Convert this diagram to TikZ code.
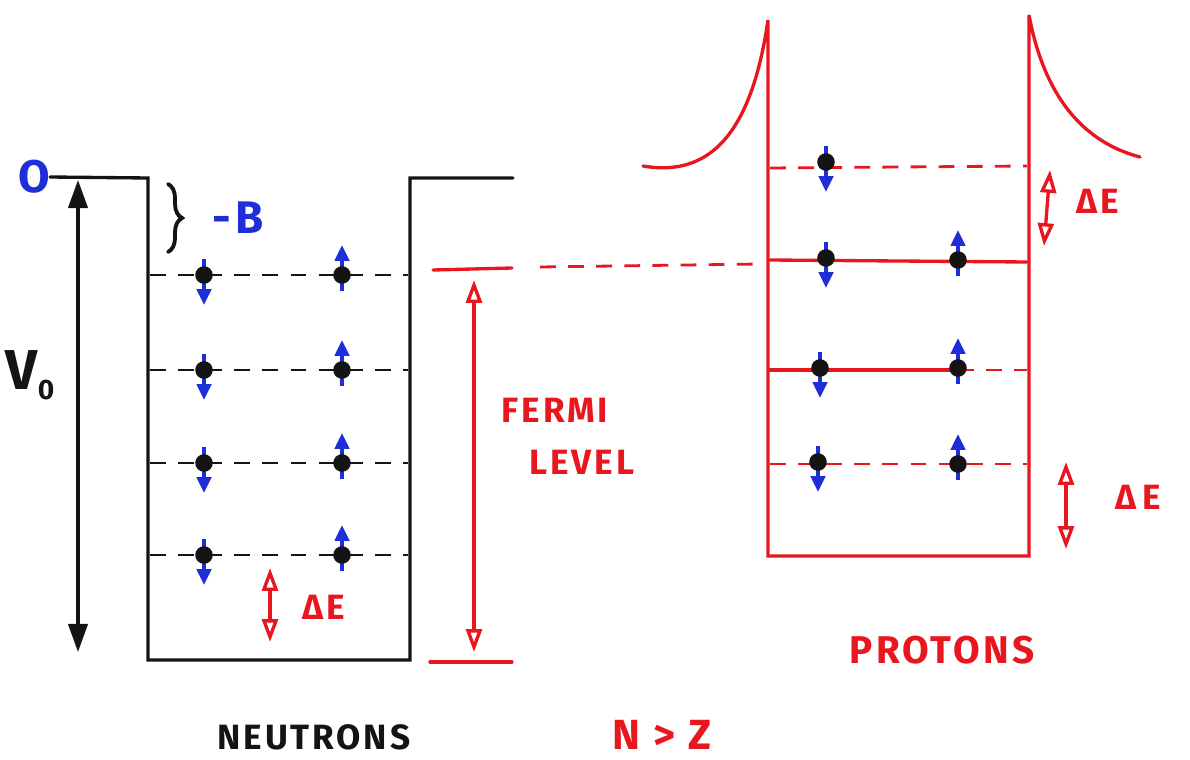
\documentclass[tikz,border=0pt]{standalone}
\usepackage{fontspec}
\setmainfont{Fira Sans}
\newfontfamily\hand[LetterSpace=8]{Fira Sans}
\usetikzlibrary{arrows.meta,decorations.pathreplacing}
\definecolor{ink}{HTML}{141414}
\definecolor{rink}{HTML}{E8161E}
\definecolor{bink}{HTML}{1E2ED8}
\tikzset{
  wall/.style={line width=1.9pt, draw=ink, line cap=round},
  rwall/.style={line width=1.9pt, draw=rink, line cap=round},
  nlevel/.style={line width=1.6pt, draw=ink, dash pattern=on 9pt off 7pt},
  rlevel/.style={line width=1.6pt, draw=rink, dash pattern=on 9pt off 7pt},
  rdouble/.style={rwall, {Triangle[open,length=13pt,width=9pt,line width=1.9pt]}-{Triangle[open,length=13pt,width=9pt,line width=1.9pt]}},
  kdouble/.style={wall, {Triangle[length=16pt,width=11pt]}-{Triangle[length=16pt,width=11pt]}},
  ktext/.style={text=ink, font=\hand\bfseries\fontsize{20}{24}\selectfont},
  rtext/.style={text=rink, font=\hand\bfseries\fontsize{20}{24}\selectfont},
  btext/.style={text=bink, font=\hand\bfseries\fontsize{26}{28}\selectfont},
  spinup/.pic={
    \draw[line width=2.2pt, draw=bink, -{Triangle[length=9pt,width=8pt]}] (0,16) -- (0,-30);
    \fill[ink] (0,0) circle (5pt);
  },
  spindown/.pic={
    \draw[line width=2.2pt, draw=bink, -{Triangle[length=9pt,width=8pt]}] (0,-16) -- (0,30);
    \fill[ink] (0,0) circle (5pt);
  }
}
\begin{document}
\begin{tikzpicture}[x=0.02cm,y=-0.02cm]
\useasboundingbox (0,0) rectangle (1190,760);

% ---------------- neutrons ----------------
\node[btext, inner sep=0pt] (zero) at (34,177) {O};
\coordinate (wTL) at (148,178);
\coordinate (wBL) at (148,660);
\coordinate (wBR) at (410,660);
\coordinate (wTR) at (410,178);
\draw[wall] (zero.east) -- (wTL) -- (wBL) -- (wBR) -- (wTR) -- (513,178);

\coordinate (vtop) at (78,180);
\coordinate (vbot) at (78,652);
\draw[kdouble] (vbot) -- (vtop);
\node[text=ink, font=\hand\bfseries\fontsize{32}{34}\selectfont, inner sep=0pt] (vzero) at (30,375) {V\raisebox{-0.35ex}{\fontsize{16}{16}\selectfont 0}};

\draw[wall, line width=2.2pt, decorate, decoration={brace, amplitude=8pt}] (168,184) -- (168,252);
\node[btext, inner sep=0pt] (bind) at (238,218) {-B};

\foreach \y/\n in {275/a,370/b,463/c,555/d}{
  \draw[nlevel] (150,\y) -- (408,\y);
  \pic (nd\n) at (204,\y) {spindown};
  \pic (nu\n) at (342,\y) {spinup};
}

\coordinate (dEnt) at (270,568);
\coordinate (dEnb) at (270,642);
\draw[rdouble] (dEnt) -- (dEnb);
\node[rtext, inner sep=0pt] (dEn) at (324,607) {ΔE};

\node[ktext, inner sep=0pt] (neut) at (314,737) {NEUTRONS};

% ---------------- Fermi level ----------------
\draw[rwall] (433,270) -- (512,268);
\draw[rlevel] (540,267) -- (760,264);
\draw[rwall] (430,662) -- (512,662);
\coordinate (ftop) at (474,280);
\coordinate (fbot) at (474,652);
\draw[rdouble] (ftop) -- (fbot);
\node[rtext, inner sep=0pt] (fermi) at (555,410) {FERMI};
\node[rtext, inner sep=0pt] (level) at (582,462) {LEVEL};

\node[text=rink, font=\hand\bfseries\fontsize{24}{26}\selectfont, inner sep=0pt] (nz) at (662,735) {N > Z};

% ---------------- protons ----------------
\coordinate (pTL) at (768,20);
\coordinate (pBL) at (768,556);
\coordinate (pBR) at (1029,556);
\coordinate (pTR) at (1029,15);
\draw[rwall] (643,166) .. controls (712,178) and (752,130) .. (pTL) -- (pBL) -- (pBR) -- (pTR)
  .. controls (1042,85) and (1075,140) .. (1140,157);

\draw[rlevel] (770,168) -- (1027,166);
\draw[rwall] (770,260) -- (1027,262);
\draw[rwall] (770,370) -- (958,370);
\draw[rlevel] (958,370) -- (1027,370);
\draw[rlevel] (770,464) -- (1027,464);

\pic (pd0) at (826,162) {spindown};
\pic (pd1) at (826,258) {spindown};
\pic (pu1) at (958,260) {spinup};
\pic (pd2) at (820,368) {spindown};
\pic (pu2) at (958,368) {spinup};
\pic (pd3) at (818,462) {spindown};
\pic (pu3) at (958,464) {spinup};

\coordinate (dE1t) at (1050,170);
\coordinate (dE1b) at (1044,246);
\draw[rdouble] (dE1t) -- (dE1b);
\node[rtext, inner sep=0pt] (dE1) at (1098,201) {ΔE};

\coordinate (dE2t) at (1066,462);
\coordinate (dE2b) at (1066,549);
\draw[rdouble] (dE2t) -- (dE2b);
\node[rtext, inner sep=0pt] (dE2) at (1138,497) {Δ\,E};

\node[text=rink, font=\hand\bfseries\fontsize{22}{26}\selectfont, inner sep=0pt] (prot) at (942,650) {PROTONS};
\end{tikzpicture}
\end{document}
